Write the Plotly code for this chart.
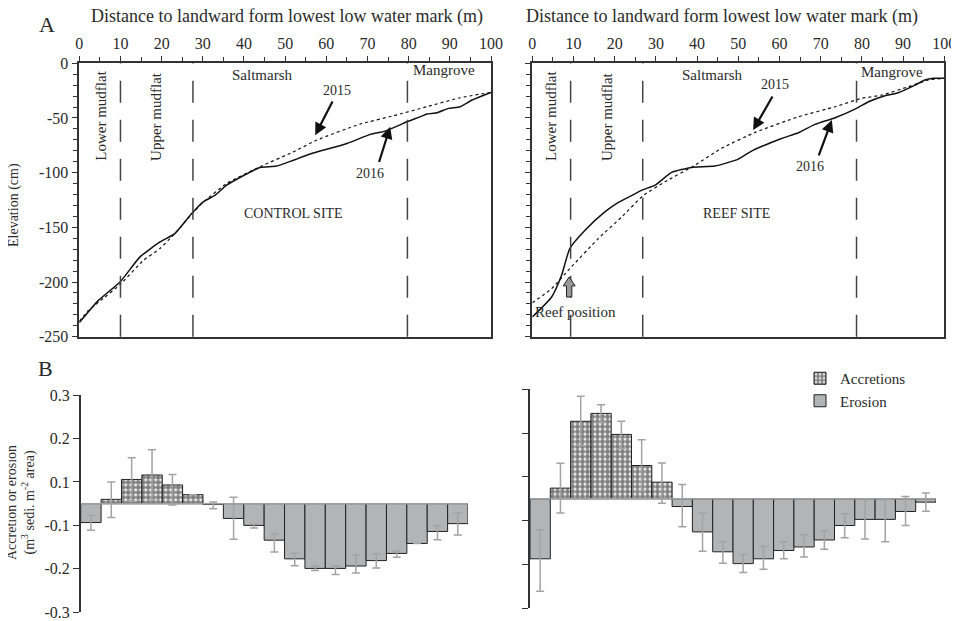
import plotly.graph_objects as go

W, H = 959, 621
FONT = "Liberation Serif"
TXT = "#2a2a2a"
AX = "#333333"

# ---------------- Elevation profiles (distance m, elevation cm) ----------------
ctrl_2015_d = [0, 2.2, 5.8, 9.9, 15.6, 19.6, 23.2, 27.3, 30.1, 35.8, 43.9, 52, 57.7, 68.2, 76.3, 84.4, 92.5, 100]
ctrl_2015_e = [-236, -226, -215, -202.4, -180.1, -169.4, -155.7, -138, -127, -109.9, -94.6, -81, -70.2, -55.6, -48, -39.7, -31.5, -26.6]
ctrl_2016_d = [0, 4.6, 9.9, 14.75, 19.6, 23.2, 27.3, 30.1, 33, 35.8, 43.9, 47.9, 56.1, 65, 70.7, 74.3, 79.6, 83.2, 84.4, 86.9, 89.7, 92.5, 95.4, 100]
ctrl_2016_e = [-237, -217, -200, -177, -163.4, -155.7, -137.4, -126.7, -120.6, -111.4, -95.2, -94, -83, -73.3, -65, -62, -53.5, -48.3, -46.4, -45.2, -41.2, -39.7, -33.6, -26.6]

reef_2015_d = [0, 4.7, 9.1, 16, 21.7, 26.9, 32.2, 39.5, 45.9, 54.1, 64.6, 73.5, 80, 84.8, 91.3, 96.1, 100]
reef_2015_e = [-219, -206, -187.7, -160.3, -140.5, -121, -108.4, -93.1, -77.8, -63.2, -48.9, -39.7, -32, -29.1, -21.4, -15.3, -13.7]
reef_2016_d = [0, 4.7, 7.1, 9.1, 12.8, 17.6, 21, 24.1, 26.6, 29.8, 33.8, 38.7, 44.3, 50, 53.2, 60.5, 64.6, 68.6, 73.5, 78.7, 81.6, 85.6, 88.8, 92.9, 95.3, 97.3, 100]
reef_2016_e = [-232, -213.7, -193.9, -169.4, -152.7, -135.9, -127, -121, -116, -111.4, -99.8, -95.2, -94, -87.6, -80.3, -68.7, -63.5, -55.9, -49.8, -41.2, -35.2, -29.7, -26.9, -19.9, -15.3, -13.7, -13.7]

zone_lines_ctrl = [10, 27.6, 79.7]
zone_lines_reef = [9.3, 26.8, 78.7]

elev_ticks = [0, -50, -100, -150, -200, -250]
dist_ticks = [0, 10, 20, 30, 40, 50, 60, 70, 80, 90, 100]

# ---------------- Accretion / erosion (5 m bins) ----------------
bin_width = 5
ctrl_val = [-0.0435, 0.0099, 0.0557, 0.066, 0.043, 0.0206, -0.002, -0.034, -0.050, -0.084,
            -0.127, -0.149, -0.149, -0.1435, -0.131, -0.1145, -0.0916, -0.064, -0.046]
ctrl_err_up = [0.0165, 0.040, 0.050, 0.058, 0.024, 0.0, 0.006, 0.049, 0.003, 0.014,
               0.013, 0.006, 0.006, 0.026, 0.016, 0.005, 0.0, 0.014, 0.025]
ctrl_err_dn = [0.0175, 0.042, 0.050, 0.058, 0.046, 0.0, 0.010, 0.048, 0.006, 0.027,
               0.016, 0.005, 0.014, 0.016, 0.017, 0.009, 0.0, 0.019, 0.026]

reef_val = [-0.137, 0.0244, 0.177, 0.195, 0.147, 0.076, 0.038, -0.0176, -0.0756, -0.121,
            -0.148, -0.137, -0.118, -0.110, -0.094, -0.061, -0.047, -0.047, -0.029, -0.0076]
reef_err_up = [0.066, 0.057, 0.057, 0.0195, 0.030, 0.059, 0.044, 0.050, 0.043, 0.023,
               0.021, 0.028, 0.020, 0.028, 0.021, 0.027, 0.045, 0.045, 0.034, 0.021]
reef_err_dn = [0.074, 0.057, 0.056, 0.021, 0.032, 0.058, 0.048, 0.046, 0.044, 0.026,
               0.020, 0.024, 0.019, 0.023, 0.021, 0.028, 0.045, 0.051, 0.032, 0.021]

# axis drawn with a gap at zero: tick positions and their printed labels
bar_tick_pos = [0.25, 0.15, 0.05, -0.05, -0.15, -0.25]
bar_tick_txt = ["0.3", "0.2", "0.1", "-0.1", "-0.2", "-0.3"]

# the page body adds an 8 px offset; lay out in screen pixels and compensate
OFF = 8


def px(x):
    return (x - OFF) / W


def py(y):
    return 1 - (y - OFF) / H


fig = go.Figure()

# ---- profile lines ----
for d15, e15, d16, e16, xa, ya in [
    (ctrl_2015_d, ctrl_2015_e, ctrl_2016_d, ctrl_2016_e, "x", "y"),
    (reef_2015_d, reef_2015_e, reef_2016_d, reef_2016_e, "x2", "y2"),
]:
    fig.add_trace(go.Scatter(x=d15, y=e15, mode="lines", xaxis=xa, yaxis=ya, showlegend=False,
                             line=dict(color="#111", width=1.2, dash="3px,3px", shape="spline", smoothing=0.5)))
    fig.add_trace(go.Scatter(x=d16, y=e16, mode="lines", xaxis=xa, yaxis=ya, showlegend=False,
                             line=dict(color="#111", width=1.5, shape="spline", smoothing=0.5)))

# ---- bars ----
def add_bars(vals, eup, edn, xa, ya, legend):
    centers = [bin_width * i + bin_width / 2 for i in range(len(vals))]
    acc = [i for i, v in enumerate(vals) if v > 0]
    ero = [i for i, v in enumerate(vals) if v <= 0]
    fig.add_trace(go.Bar(
        x=[centers[i] for i in acc], y=[vals[i] for i in acc], width=bin_width,
        xaxis=xa, yaxis=ya, name="Accretions", legendgroup="acc", showlegend=legend,
        marker=dict(color="white", line=dict(color="#222", width=1),
                    pattern=dict(shape=".", fgcolor="#000", bgcolor="white", size=5, solidity=0.75)),
        error_y=dict(type="data", symmetric=False, array=[eup[i] for i in acc],
                     arrayminus=[edn[i] for i in acc], color="#a3a3a3", thickness=1.5, width=4),
    ))
    fig.add_trace(go.Bar(
        x=[centers[i] for i in ero], y=[vals[i] for i in ero], width=bin_width,
        xaxis=xa, yaxis=ya, name="Erosion", legendgroup="ero", showlegend=legend,
        marker=dict(color="#b3b4b6", line=dict(color="#222", width=1)),
        error_y=dict(type="data", symmetric=False, array=[eup[i] for i in ero],
                     arrayminus=[edn[i] for i in ero], color="#a3a3a3", thickness=1.5, width=4),
    ))


add_bars(ctrl_val, ctrl_err_up, ctrl_err_dn, "x3", "y3", False)
add_bars(reef_val, reef_err_up, reef_err_dn, "x4", "y4", True)

# ---- axes ----
top_x = dict(side="top", range=[0, 100], tickvals=dist_ticks, ticks="outside", ticklen=6,
             tickcolor=AX, showline=True, mirror=True, linecolor=AX, linewidth=1.5, automargin=False,
             showgrid=False, zeroline=False, tickfont=dict(size=16, color=TXT),
             minor=dict(dtick=5, tick0=0, ticks="outside", ticklen=5, tickcolor=AX, showgrid=False))
top_y = dict(range=[-250, 0], tickvals=elev_ticks, ticktext=[str(v) for v in elev_ticks],
             ticks="outside", ticklen=6, tickcolor=AX, showline=True, mirror=True, linecolor=AX,
             linewidth=1.5, showgrid=False, zeroline=False, tickfont=dict(size=16, color=TXT),
             automargin=False,
             minor=dict(tickvals=list(range(-250, 1, 10)), ticks="outside", ticklen=5, tickcolor=AX, showgrid=False))
bot_x = dict(visible=False, showgrid=False, zeroline=False, automargin=False)
bot_y = dict(range=[-0.25, 0.25], tickvals=bar_tick_pos, ticktext=bar_tick_txt, ticks="outside",
             ticklen=6, tickcolor=AX, showline=True, linecolor=AX, linewidth=1.5, showgrid=False,
             zeroline=False, tickfont=dict(size=16, color=TXT), automargin=False)

fig.update_layout(
    xaxis=dict(top_x, domain=[px(79.3), px(491)], anchor="y"),
    yaxis=dict(top_y, domain=[py(336.7), py(63.3)], anchor="x"),
    xaxis2=dict(top_x, domain=[px(532.3), px(944.3)], anchor="y2"),
    yaxis2=dict(top_y, domain=[py(336.7), py(63.3)], anchor="x2", showticklabels=False),
    xaxis3=dict(bot_x, domain=[px(80.7), px(468)], range=[0, 95], anchor="y3"),
    yaxis3=dict(bot_y, domain=[py(612.3), py(395)], anchor="x3"),
    xaxis4=dict(bot_x, domain=[px(530), px(936)], range=[0, 100], anchor="y4"),
    yaxis4=dict(bot_y, domain=[py(608.3), py(389.3)], anchor="x4", showticklabels=False),
)

shapes = []
for xs, xa, ya in [(zone_lines_ctrl, "x", "y"), (zone_lines_reef, "x2", "y2")]:
    for xv in xs:
        shapes.append(dict(type="line", xref=xa, yref=ya + " domain", x0=xv, x1=xv, y0=0, y1=1,
                           line=dict(color="#444", width=1.5, dash="22px,17px")))
for xa, ya in [("x3", "y3"), ("x4", "y4")]:
    shapes.append(dict(type="line", xref=xa + " domain", yref=ya, x0=0, x1=1, y0=0, y1=0,
                       line=dict(color="#a0a0a0", width=1.5), layer="above"))
# reef position block arrow
shapes.append(dict(type="path", xref="x2", yref="y2",
                   path="M 8.3 -213.7 L 9.6 -213.7 L 9.6 -203.5 L 10.4 -203.5 L 8.95 -195.4 L 7.5 -203.5 L 8.3 -203.5 Z",
                   fillcolor="#9a9a9a", line=dict(color="#222", width=1)))
fig.update_layout(shapes=shapes)

ann = []


def t(text, x, y, xref="paper", yref="paper", size=14, angle=0, xanchor="center", **kw):
    ann.append(dict(text=text, x=x, y=y, xref=xref, yref=yref, showarrow=False, textangle=angle,
                    xanchor=xanchor, yanchor="middle",
                    font=dict(family=FONT, size=size, color=TXT), **kw))


def arrow(x0, y0, x1, y1, xa, ya):
    ann.append(dict(text="", x=x1, y=y1, ax=x0, ay=y0, xref=xa, yref=ya, axref=xa, ayref=ya,
                    showarrow=True, arrowhead=2, arrowsize=1.1, arrowwidth=2.2, arrowcolor="#111"))


t("A", px(47), py(24), size=22)
t("B", px(45), py(368), size=22)
t("Distance to landward form lowest low water mark (m)", px(287), py(17), size=18)
t("Distance to landward form lowest low water mark (m)", px(722), py(17), size=18)
t("Elevation (cm)", px(14), py(205), size=14, angle=-90)
t("Accretion or erosion<br>(m<sup>3</sup> sedi. m<sup>-2</sup> area)", px(21), py(503), size=14, angle=-90)

# control panel labels
t("Lower mudflat", 5.4, -48.4, "x", "y", size=15, angle=-90)
t("Upper mudflat", 18.8, -48.4, "x", "y", size=15, angle=-90)
t("Saltmarsh", 44.3, -10.7, "x", "y", size=15)
t("Mangrove", 80.6, -6.1, "x", "y", size=15, xanchor="left")
t("2015", 62.6, -24.5, "x", "y")
t("2016", 70.7, -100.7, "x", "y")
t("CONTROL SITE", 52, -137.4, "x", "y")
arrow(61.7, -33.6, 57.3, -65.7, "x", "y")
arrow(72.7, -91.6, 75.5, -58, "x", "y")

# reef panel labels
t("Lower mudflat", 4.7, -48.4, "x2", "y2", size=15, angle=-90)
t("Upper mudflat", 18.1, -48.4, "x2", "y2", size=15, angle=-90)
t("Saltmarsh", 43.5, -10.7, "x2", "y2", size=15)
t("Mangrove", 79.3, -7.7, "x2", "y2", size=15, xanchor="left")
t("2015", 58.9, -19.2, "x2", "y2")
t("2016", 67.4, -94.7, "x2", "y2")
t("REEF SITE", 49.6, -137.4, "x2", "y2")
t("Reef position", 10.5, -227.5, "x2", "y2", size=15)
arrow(58.5, -29, 53.6, -61.1, "x2", "y2")
arrow(69.4, -85.5, 72.7, -51.9, "x2", "y2")

fig.update_layout(
    annotations=ann,
    width=W, height=H,
    margin=dict(l=0, r=0, t=0, b=0, autoexpand=False),
    paper_bgcolor="white", plot_bgcolor="white",
    font=dict(family=FONT, size=13, color=TXT),
    barmode="overlay",
    showlegend=True,
    legend=dict(x=px(800), y=py(362), xanchor="left", yanchor="top", bgcolor="rgba(0,0,0,0)",
                font=dict(family=FONT, size=15, color=TXT), itemwidth=30, tracegroupgap=0),
)

fig.write_html("out.html")
